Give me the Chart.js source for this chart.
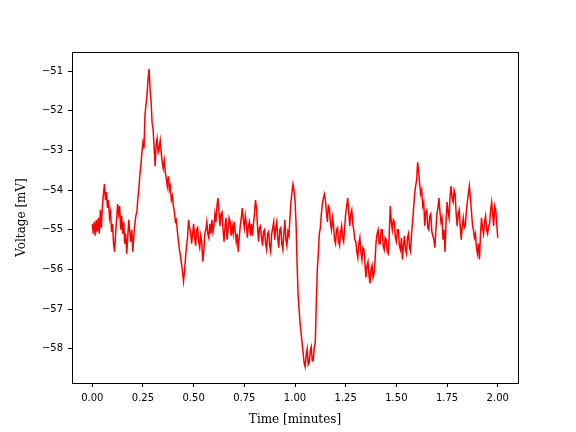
<!DOCTYPE html>
<html>
<head>
<meta charset="utf-8">
<script src="https://cdn.jsdelivr.net/npm/chart.js@4.4.1/dist/chart.umd.min.js"></script>
<style>
  body { margin: 0; background: #fff; }
  #myChart { display: block; }
</style>
</head>
<body>
<canvas id="myChart" width="576" height="432"></canvas>
<script>
// voltage trace, one reading every 0.005 minutes from 0.00 to 2.00
let sampleStep = 0.005
let voltage = [
  -54.85,
  -55.10, -54.80, -55.15, -54.75, -55.05, -54.70, -55.10, -54.50, -54.95, -54.40,
  -54.10, -53.85, -54.25, -54.05, -54.45, -54.25, -54.70, -54.55, -55.05, -54.85,
  -55.35, -55.55, -55.10, -54.75, -54.35, -54.60, -54.40, -55.00, -54.65, -55.10,
  -54.80, -55.35, -55.10, -55.60, -55.20, -54.75, -55.05, -55.30, -55.00, -55.55,
  -55.15, -54.85, -54.65, -54.55, -54.20, -53.95, -53.60, -53.35, -53.05, -52.80,
  -52.95, -52.10, -51.85, -51.60, -51.20, -50.95, -51.45, -51.75, -52.30, -52.45,
  -52.90, -53.40, -52.85, -52.70, -53.05, -52.95, -52.75, -53.05, -53.30, -53.45,
  -53.25, -53.55, -53.70, -53.90, -53.65, -54.00, -53.90, -54.25, -54.15, -54.40,
  -54.55, -54.80, -54.75, -55.05, -55.30, -55.50, -55.65, -55.85, -56.05, -56.30,
  -56.05, -55.70, -55.40, -55.20, -54.75, -54.95, -55.05, -55.35, -55.10, -54.85,
  -55.20, -55.40, -55.00, -54.95, -55.30, -55.45, -55.15, -55.30, -55.80, -55.55,
  -55.10, -55.00, -54.80, -55.10, -55.20, -54.85, -55.10, -54.75, -55.05, -54.90,
  -54.60, -54.80, -54.40, -54.20, -54.55, -54.90, -54.60, -54.55, -55.00, -55.30,
  -54.90, -54.70, -55.25, -55.00, -54.70, -54.80, -55.15, -54.90, -55.10, -54.80,
  -55.05, -55.30, -55.10, -55.55, -55.20, -54.90, -54.70, -54.45, -54.75, -54.95,
  -54.65, -54.85, -55.20, -54.90, -54.80, -55.15, -54.85, -55.15, -54.85, -54.60,
  -54.25, -54.45, -54.90, -55.30, -54.95, -54.90, -55.20, -55.40, -55.05, -55.00,
  -55.35, -55.50, -55.10, -55.05, -55.40, -55.55, -55.10, -54.95, -54.80, -55.25,
  -54.95, -54.80, -55.20, -55.45, -55.00, -54.95, -55.35, -55.50, -55.10, -54.75,
  -55.25, -55.40, -55.05, -55.15, -54.70, -54.30, -54.05, -53.85, -54.00, -54.25,
  -54.80, -55.80, -56.60, -57.00, -57.35, -57.60, -57.85, -58.10, -58.35, -58.45,
  -58.15, -58.00, -58.40, -58.35, -58.05, -57.95, -58.30, -58.30, -57.95, -57.85,
  -56.85, -56.00, -55.60, -55.10, -54.95, -54.60, -54.35, -54.20, -54.10, -54.25,
  -54.55, -54.80, -54.40, -54.45, -54.85, -55.00, -54.70, -54.90, -55.25, -55.35,
  -55.00, -54.95, -55.30, -55.40, -55.05, -54.90, -55.20, -55.30, -54.95, -54.60,
  -54.40, -54.20, -54.55, -54.90, -54.60, -54.50, -54.85, -55.00, -55.25, -55.30,
  -55.55, -55.70, -55.35, -55.20, -55.55, -55.75, -55.45, -55.50, -55.85, -56.20,
  -55.90, -55.80, -56.15, -56.35, -56.00, -55.90, -56.20, -56.10, -55.75, -55.30,
  -55.10, -55.00, -55.35, -55.35, -55.00, -55.00, -55.40, -55.50, -55.20, -55.25,
  -55.55, -55.60, -55.10, -54.40, -54.80, -55.00, -54.75, -54.80, -55.20, -55.30,
  -55.00, -55.00, -55.40, -55.50, -55.20, -55.75, -55.40, -55.15, -55.50, -55.60,
  -55.20, -55.10, -55.45, -55.55, -55.10, -54.80, -54.45, -54.10, -53.90, -53.75,
  -53.30, -53.55, -53.85, -54.10, -54.00, -54.40, -54.30, -54.90, -54.55, -54.50,
  -54.95, -55.00, -54.65, -54.60, -55.05, -55.15, -55.25, -55.45, -55.00, -54.60,
  -54.45, -54.20, -54.55, -54.80, -54.70, -55.25, -55.00, -55.55, -54.80, -54.30,
  -54.55, -54.70, -54.15, -53.90, -54.20, -54.30, -54.00, -54.10, -54.60, -54.90,
  -54.60, -54.50, -54.90, -55.25, -54.90, -54.70, -54.95, -54.90, -54.55, -54.30,
  -54.10, -53.90, -54.20, -54.50, -54.85, -55.00, -55.20, -55.10, -55.45, -55.60,
  -55.35, -55.75, -55.10, -54.70, -54.95, -55.10, -54.80, -54.65, -55.00, -55.10,
  -54.90, -54.85, -54.50, -54.30, -54.60, -54.90, -54.40, -54.50, -54.85, -55.20
]
let xTicks = [0, 0.25, 0.5, 0.75, 1, 1.25, 1.5, 1.75, 2]
let yTicks = [-58, -57, -56, -55, -54, -53, -52, -51]

let points = voltage.map((v, i) => ({x: +(i * sampleStep).toFixed(3), y: v}))

// full box around the plot area, like matplotlib spines
let boxPlugin = {
  id: 'box',
  afterDraw(chart) {
    let a = chart.chartArea
    let c = chart.ctx
    c.save()
    c.strokeStyle = '#000'
    c.lineWidth = 1
    c.strokeRect(Math.round(a.left) + 0.5, Math.round(a.top) + 0.5,
      Math.round(a.right - a.left), Math.round(a.bottom - a.top))
    c.restore()
  }
}

let ctx = document.querySelector('#myChart')
let myChart = new Chart(ctx, {
  type: 'line',
  data: {
    datasets: [{
      data: points,
      borderColor: 'red',
      borderWidth: 1.5,
      pointRadius: 0,
      fill: false,
      tension: 0
    }]
  },
  options: {
    responsive: false,
    animation: false,
    layout: {padding: {top: 52, right: 58, left: 0, bottom: 0}},
    plugins: {legend: {display: false}, tooltip: {enabled: false}},
    scales: {
      x: {
        type: 'linear',
        min: -0.1,
        max: 2.1,
        afterBuildTicks: s => { s.ticks = xTicks.map(v => ({value: v})) },
        afterFit: s => { s.height = 49 },
        grid: {drawOnChartArea: false, tickLength: 4, tickColor: '#000'},
        border: {color: '#000'},
        ticks: {
          color: '#000',
          padding: 5,
          maxRotation: 0,
          font: {family: 'DejaVu Sans', size: 10},
          callback: v => v.toFixed(2)
        },
        title: {
          display: true,
          text: 'Time [minutes]',
          color: '#000',
          font: {family: 'DejaVu Serif', size: 12},
          padding: {top: 0, bottom: 5}
        }
      },
      y: {
        min: -58.86,
        max: -50.52,
        afterBuildTicks: s => { s.ticks = yTicks.map(v => ({value: v})) },
        afterFit: s => { s.width = 72 },
        grid: {drawOnChartArea: false, tickLength: 4, tickColor: '#000'},
        border: {color: '#000'},
        ticks: {
          color: '#000',
          padding: 5,
          font: {family: 'DejaVu Sans', size: 10},
          callback: v => (v < 0 ? '\u2212' : '') + Math.abs(v)
        },
        title: {
          display: true,
          text: 'Voltage [mV]',
          color: '#000',
          font: {family: 'DejaVu Serif', size: 12},
          padding: {top: 15, bottom: 0}
        }
      }
    }
  },
  plugins: [boxPlugin]
})
</script>
</body>
</html>
